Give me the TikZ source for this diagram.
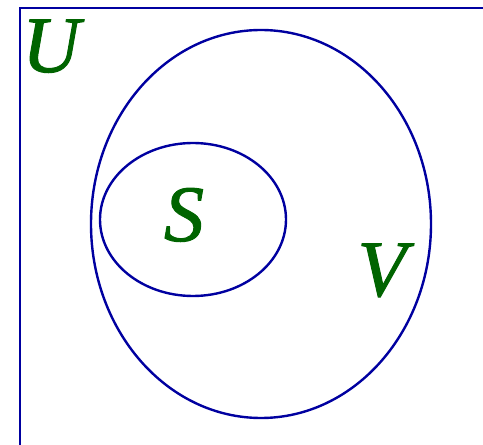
\documentclass[tikz,border=0pt]{standalone}
\usepackage{fontspec}
\setmainfont{Liberation Serif}
\newfontface\setlabelfont{Liberation Serif Italic}[FakeBold=1.2]
\definecolor{setblue}{RGB}{0,0,160}
\definecolor{setgreen}{RGB}{0,100,0}
\begin{document}
\begin{tikzpicture}[x=1pt,y=1pt,
  setline/.style={draw=setblue,line width=2.4pt},
  setlabel/.style={text=setgreen,font=\setlabelfont\fontsize{80}{80}\selectfont,anchor=base,inner sep=0pt}]
\useasboundingbox (0,0) rectangle (483,445);
\begin{scope}
\clip (0,0) rectangle (483,445);
\draw[setline] (20,-20) rectangle (520,437);
\end{scope}
\draw[setline] (261,221) ellipse [x radius=170, y radius=194];
\draw[setline] (193,225.5) ellipse [x radius=93, y radius=76.5];
\node[setlabel] (U) at (51,373) {U};
\node[setlabel] (S) at (184,204) {S};
\node[setlabel] (V) at (382,149) {V};
\end{tikzpicture}
\end{document}
